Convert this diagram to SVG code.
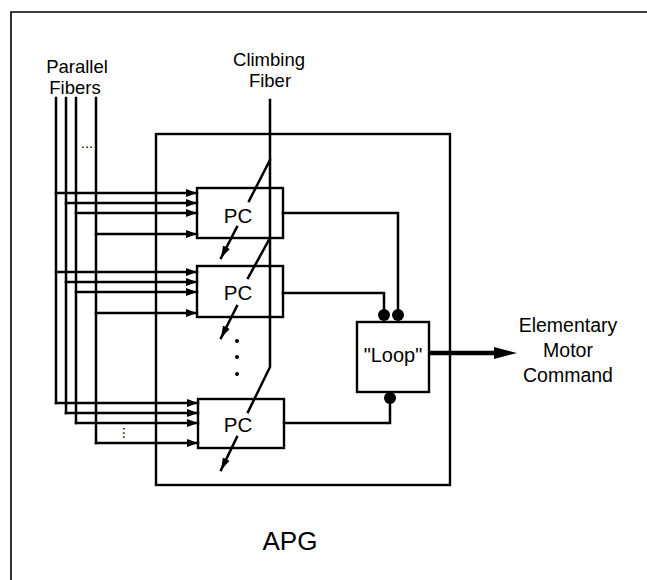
<svg xmlns="http://www.w3.org/2000/svg" width="647" height="580" viewBox="0 0 647 580">
<style>
  .ln{fill:none;stroke:#000;stroke-width:2.5;stroke-linecap:square}
  .thin{fill:none;stroke:#000;stroke-width:1.6}
  .box{fill:none;stroke:#000;stroke-width:2.4}
  .t{font-family:"Liberation Sans",Arial,Helvetica,sans-serif;fill:#000;text-anchor:middle}
  .lbl{font-size:18.5px}
  .out{font-size:19.5px}
  .pc{font-size:20.5px}
</style>
<defs>
  <marker id="ah" markerUnits="userSpaceOnUse" markerWidth="12" markerHeight="10" refX="11" refY="5" orient="auto">
    <path d="M0,1 L11,5 L0,9 Z" fill="#000"/>
  </marker>
  <marker id="ad" markerUnits="userSpaceOnUse" markerWidth="13" markerHeight="10" refX="12" refY="5" orient="auto">
    <path d="M0,1.2 L12,5 L0,8.8 Z" fill="#000"/>
  </marker>
</defs>
<rect width="647" height="580" fill="#fff"/>
<!-- outer frame (top and left only visible) -->
<path class="thin" d="M647,12 L11,12 L11,580"/>
<!-- APG box -->
<g id="apg">
  <rect x="156" y="134" width="294" height="351" fill="none" stroke="#000" stroke-width="2.4"/>
  <text class="t" x="290" y="550" font-size="26">APG</text>
</g>
<g id="labels">
  <text class="t lbl" x="77" y="73">Parallel</text>
  <text class="t lbl" x="75" y="94">Fibers</text>
  <text class="t lbl" x="269" y="66">Climbing</text>
  <text class="t lbl" x="270" y="87">Fiber</text>
</g>
<g id="connectors">
  <!-- parallel fibers verticals -->
  <path class="ln" d="M56,98 V403 M66,98 V413 M76,98 V423 M96,98 V443"/>
  <text class="t" x="87" y="148" font-size="15">...</text>
  <text class="t" x="0" y="0" font-size="15" transform="translate(123,433) rotate(90)">...</text>
  <!-- inputs to PCs -->
  <g marker-end="url(#ah)">
    <path class="ln" d="M56,193 H197"/>
    <path class="ln" d="M66,203 H197"/>
    <path class="ln" d="M76,213 H197"/>
    <path class="ln" d="M96,234 H197"/>
    <path class="ln" d="M56,272 H197"/>
    <path class="ln" d="M66,282 H197"/>
    <path class="ln" d="M76,292 H197"/>
    <path class="ln" d="M96,313 H197"/>
    <path class="ln" d="M56,403 H198"/>
    <path class="ln" d="M66,413 H198"/>
    <path class="ln" d="M76,423 H198"/>
    <path class="ln" d="M96,443 H198"/>
  </g>
  <!-- climbing fiber -->
  <path class="ln" d="M270,100 V367 L248,412"/>
  <path class="ln" d="M270,160 L249,201"/>
  <path class="ln" d="M270,238 L248,278"/>
  <!-- PC outputs (down-left arrows) -->
  <g marker-end="url(#ad)">
    <path class="ln" d="M237,227 L221,258"/>
    <path class="ln" d="M237,306 L221,338"/>
    <path class="ln" d="M237,437 L221,470"/>
  </g>
  <circle cx="237" cy="341" r="2"/>
  <circle cx="237" cy="357" r="2"/>
  <circle cx="237" cy="374" r="2"/>
  <!-- PC to Loop -->
  <path class="ln" d="M283,213 H398 V312"/>
  <path class="ln" d="M283,293 H384 V312"/>
  <path class="ln" d="M284,423 H390 V398"/>
  <circle cx="384" cy="315" r="6"/>
  <circle cx="398" cy="315" r="6"/>
  <circle cx="390" cy="398" r="6"/>
  <!-- output -->
  <path d="M429,353 H497" stroke="#000" stroke-width="4.5" fill="none"/>
  <path d="M494,347 L517,353 L494,359 Z" fill="#000"/>
</g>
<g id="pc1">
  <rect class="box" x="197" y="188" width="86" height="50"/>
  <text class="t pc" x="238" y="223">PC</text>
</g>
<g id="pc2">
  <rect class="box" x="197" y="266" width="86" height="51"/>
  <text class="t pc" x="238" y="300">PC</text>
</g>
<g id="pc3">
  <rect class="box" x="198" y="399" width="86" height="49"/>
  <text class="t pc" x="238" y="432">PC</text>
</g>
<g id="loop">
  <rect class="box" x="357" y="322" width="72" height="70" style="fill:#fff"/>
  <text class="t" x="393" y="362" font-size="20">"Loop"</text>
</g>
<g id="output-label">
  <text class="t out" x="568" y="332">Elementary</text>
  <text class="t out" x="568" y="357">Motor</text>
  <text class="t out" x="568" y="382">Command</text>
</g>
</svg>
